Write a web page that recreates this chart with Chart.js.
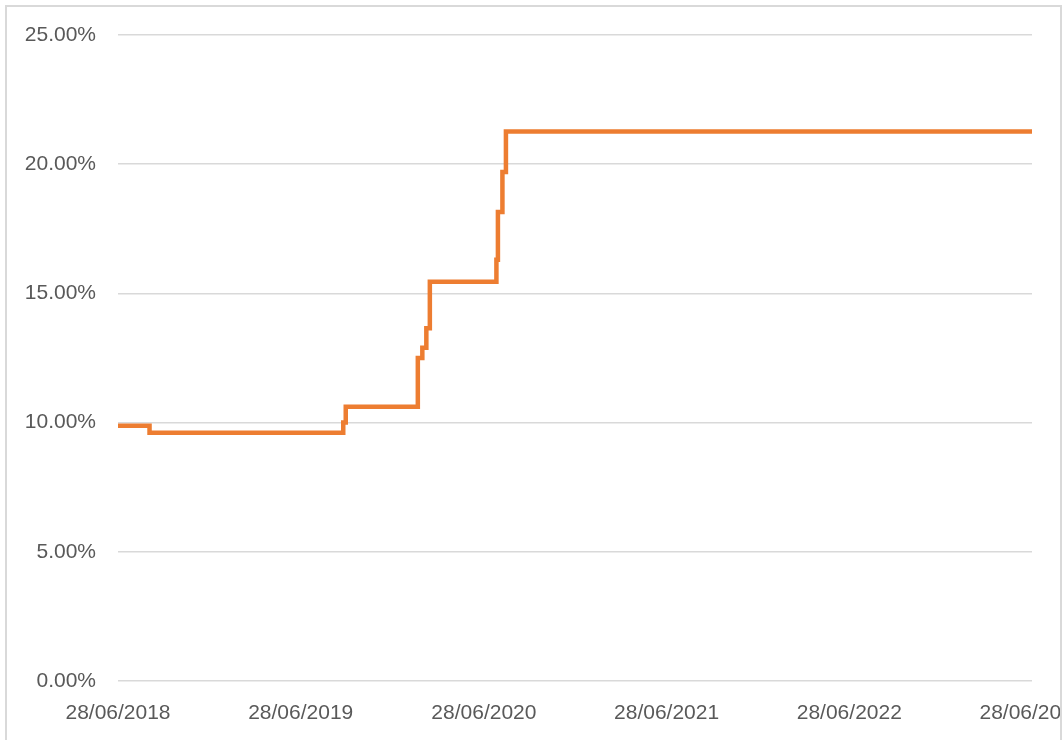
<!DOCTYPE html>
<html>
<head>
<meta charset="utf-8">
<script src="https://cdn.jsdelivr.net/npm/chart.js@4.4.0/dist/chart.umd.min.js"></script>
<style>
  html, body { margin: 0; padding: 0; background: #fff; width: 1064px; height: 740px; overflow: hidden; }
  #frame { position: absolute; left: 5px; top: 5px; width: 1053px; height: 745px;
           border-left: 2px solid #D9D9D9; border-top: 2px solid #D9D9D9; border-right: 2px solid #D9D9D9;
           overflow: hidden; background: #fff; }
  #wrap { position: absolute; left: 0; top: 0; width: 1053px; height: 733px; }
</style>
</head>
<body>
<div id="frame"><div id="wrap"><canvas id="c"></canvas></div></div>
<script>
// Change dates (step-before: value applies from this date on)
const changeDates = ['2018-06-28','2018-08-30','2019-09-21','2019-09-26','2020-02-17','2020-02-26',
                     '2020-03-05','2020-03-12','2020-07-23','2020-07-26','2020-08-04','2020-08-11','2023-06-28'];
// Rate in percent
const rateValues = [9.88, 9.61, 10.0, 10.61, 12.5, 12.9, 13.65, 15.45, 16.3, 18.15, 19.7, 21.27, 21.27];
// X tick labels (yearly)
const xTickDates = ['2018-06-28','2019-06-28','2020-06-28','2021-06-28','2022-06-28','2023-06-28'];
const yTicks = [0, 5, 10, 15, 20, 25];

const ts = s => Date.UTC(+s.slice(0,4), +s.slice(5,7)-1, +s.slice(8,10));
const fmt = v => { const d = new Date(v); const p = n => String(n).padStart(2,'0');
  return p(d.getUTCDate()) + '/' + p(d.getUTCMonth()+1) + '/' + d.getUTCFullYear(); };

const points = changeDates.map((d,i) => ({x: ts(d), y: rateValues[i]}));
const FONT = {family: '"Liberation Sans", Arial, sans-serif', size: 21};

new Chart(document.getElementById('c'), {
  type: 'line',
  data: { datasets: [{
    data: points, stepped: 'before', borderColor: '#ED7D31', borderWidth: 4.5,
    pointRadius: 0, fill: false, borderCapStyle: 'butt', borderJoinStyle: 'miter'
  }]},
  options: {
    responsive: true, maintainAspectRatio: false, animation: false,
    layout: { padding: { top: 28, right: 28, left: 0, bottom: 0 } },
    plugins: { legend: { display: false }, tooltip: { enabled: false } },
    scales: {
      x: {
        type: 'linear', min: ts(xTickDates[0]), max: ts(xTickDates[xTickDates.length-1]),
        grid: { display: false, drawTicks: false }, border: { display: false },
        afterBuildTicks: ax => { ax.ticks = xTickDates.map(d => ({value: ts(d)})); },
        ticks: { callback: v => fmt(v), color: '#595959', font: FONT, padding: 20, maxRotation: 0, autoSkip: false },
        afterFit: ax => { ax.height = 59; ax.paddingLeft = 0; ax.paddingRight = 0; }
      },
      y: {
        min: 0, max: 25,
        afterBuildTicks: ax => { ax.ticks = yTicks.map(v => ({value: v})); },
        grid: { color: '#D9D9D9', lineWidth: 1.5, drawTicks: false }, border: { display: false },
        ticks: { callback: v => v.toFixed(2) + '%', color: '#595959', font: FONT, padding: 22 },
        afterFit: ax => { ax.width = 111; ax.paddingTop = 0; ax.paddingBottom = 0; }
      }
    }
  }
});
</script>
</body>
</html>
